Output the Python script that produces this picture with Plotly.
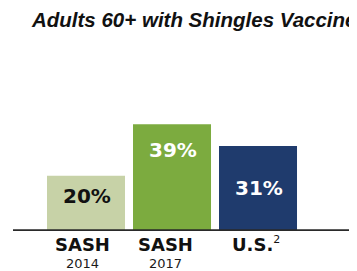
import plotly.graph_objects as go

title = "Adults 60+ with Shingles Vaccine"
categories = ["SASH", "SASH", "U.S."]
superscripts = ["", "", "2"]
years = ["2014", "2017", ""]
values = [20, 39, 31]
value_labels = ["20%", "39%", "31%"]

bar_colors = ["#c7d2a7", "#7cab3f", "#1f3b6d"]
label_colors = ["#111111", "#ffffff", "#ffffff"]
label_offsets = [-7.5, -9.5, -15.5]  # label position relative to bar top (data units)

x = list(range(len(values)))

# page body has an 8px margin; figure is sized so it ends at the window edge
W, H = 349, 263

fig = go.Figure()
fig.add_trace(go.Bar(
    x=x, y=values, width=0.907,
    marker=dict(color=bar_colors, line=dict(width=0)),
    hoverinfo="skip",
))

# value labels
for xi, v, t, c, off in zip(x, values, value_labels, label_colors, label_offsets):
    fig.add_annotation(x=xi, y=v + off, text=f"<b>{t}</b>", showarrow=False,
                       font=dict(family="DejaVu Sans", size=20, color=c),
                       xanchor="center", yanchor="middle", xshift=1)

# category labels
cat_shifts = [-3.5, -6.5, -2]
for xi, cat, sup, yr, sh in zip(x, categories, superscripts, years, cat_shifts):
    txt = f"<b>{cat}</b>"
    if sup:
        txt += f"<sup><span style='font-size:11px'>{sup}</span></sup>"
    fig.add_annotation(x=xi, y=0, yref="y", text=txt, showarrow=False,
                       font=dict(family="DejaVu Sans", size=18, color="#111111"),
                       xanchor="center", yanchor="middle", yshift=-14, xshift=sh)
    if yr:
        fig.add_annotation(x=xi, y=0, yref="y", text=yr, showarrow=False,
                           font=dict(family="DejaVu Sans", size=13, color="#1a1a1a"),
                           xanchor="center", yanchor="middle", yshift=-33, xshift=sh)

# title
fig.add_annotation(x=21 / W, y=1 - 12 / H, xref="paper", yref="paper",
                   text=f"<b><i>{title}</i></b>", showarrow=False,
                   font=dict(family="Liberation Sans, Arial", size=20.5, color="#111111"),
                   xanchor="left", yanchor="middle")

# baseline
fig.add_shape(type="line", xref="paper", yref="y", x0=5 / W, x1=1, y0=0, y1=0,
              line=dict(color="#2a2a2a", width=1.8))

fig.update_layout(
    width=W, height=H,
    margin=dict(l=0, r=0, t=0, b=0, autoexpand=False),
    paper_bgcolor="white", plot_bgcolor="white",
    showlegend=False,
    xaxis=dict(range=[-0.907, 3.151], visible=False, fixedrange=True),
    yaxis=dict(range=[-15.1, 81.9], visible=False, fixedrange=True),
)

fig.write_html("out.html", config={"displayModeBar": False})
